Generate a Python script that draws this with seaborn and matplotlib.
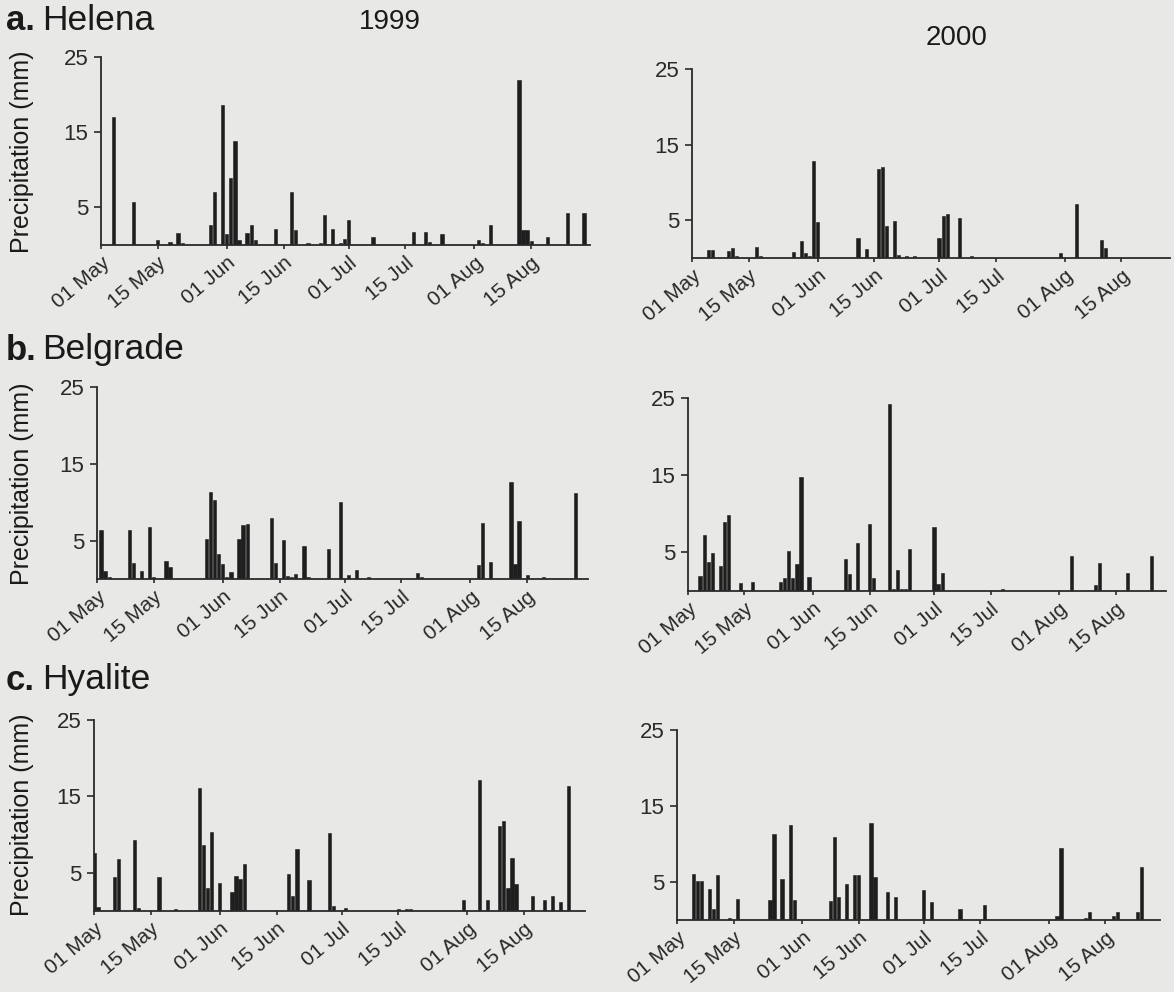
import matplotlib
matplotlib.use('Agg')
import matplotlib.pyplot as plt
import seaborn as sns

# days counted from 01 May (day 0), daily precipitation in mm
helena99_days = [3, 8, 14, 17, 19, 20, 27, 28, 30, 31, 32, 33, 34, 36, 37, 38, 43, 47, 48, 51,
                 54, 55, 57, 59, 60, 61, 67, 77, 80, 81, 84, 93, 94, 96, 103, 104, 105, 106, 110, 115, 119]
helena99_mm = [17.0, 5.7, 0.6, 0.4, 1.6, 0.2, 2.7, 7.0, 18.6, 1.4, 8.9, 13.8, 0.6, 1.6, 2.6, 0.6, 2.1, 7.1, 2.0, 0.2,
               0.3, 4.0, 2.1, 0.3, 0.8, 3.3, 1.1, 1.7, 1.7, 0.4, 1.5, 0.6, 0.3, 2.7, 22.0, 2.0, 2.0, 0.5, 1.1, 4.3, 4.2]

helena00_days = [4, 5, 9, 10, 11, 16, 17, 25, 27, 28, 29, 30, 31, 41, 43, 46, 47, 48, 50, 51,
                 53, 55, 61, 62, 63, 66, 69, 91, 95, 101, 102]
helena00_mm = [1.1, 1.1, 0.9, 1.3, 0.3, 1.5, 0.2, 0.8, 2.2, 0.7, 0.2, 12.8, 4.8, 2.6, 1.2, 11.8, 12.0, 4.2, 4.9, 0.4,
               0.2, 0.2, 2.6, 5.6, 5.8, 5.3, 0.3, 0.7, 7.2, 2.4, 1.3]

belgrade99_days = [1, 2, 3, 8, 9, 11, 13, 14, 17, 18, 27, 28, 29, 30, 31, 32, 33, 35, 36, 37,
                   43, 44, 46, 47, 48, 49, 51, 52, 57, 60, 62, 64, 67, 79, 80, 94, 95, 97, 102, 103,
                   104, 106, 110, 118]
belgrade99_mm = [6.4, 1.1, 0.2, 6.4, 2.1, 1.0, 6.8, 0.2, 2.3, 1.5, 5.2, 11.3, 10.3, 3.2, 1.9, 0.2, 0.9, 5.2, 7.0, 7.2,
                 8.0, 2.1, 5.1, 0.4, 0.3, 0.6, 4.3, 0.2, 3.9, 10.0, 0.5, 1.2, 0.3, 0.8, 0.3, 1.8, 7.3, 2.2, 12.6, 2.0,
                 7.6, 0.5, 0.3, 11.2]

belgrade00_days = [3, 4, 5, 6, 8, 9, 10, 13, 16, 23, 24, 25, 26, 27, 28, 30, 39, 40, 42, 45,
                   46, 50, 51, 52, 53, 54, 55, 61, 62, 63, 78, 95, 101, 102, 109, 115]
belgrade00_mm = [1.9, 7.2, 3.8, 4.9, 3.3, 8.9, 9.9, 1.0, 1.2, 1.2, 1.7, 5.2, 1.7, 3.5, 14.8, 1.8, 4.2, 2.2, 6.2, 8.7,
                 1.7, 24.2, 0.2, 2.7, 0.2, 0.2, 5.4, 8.3, 0.9, 2.3, 0.3, 4.5, 0.8, 3.6, 2.3, 4.5]

hyalite99_days = [0, 1, 5, 6, 10, 11, 16, 20, 26, 27, 28, 29, 31, 34, 35, 36, 37, 48, 49, 50,
                  53, 58, 59, 62, 75, 77, 78, 91, 95, 97, 100, 101, 102, 103, 104, 108, 111, 113, 115, 117]
hyalite99_mm = [7.6, 0.5, 4.5, 6.8, 9.3, 0.4, 4.4, 0.3, 16.1, 8.7, 3.0, 10.3, 3.6, 2.5, 4.6, 4.2, 6.1, 4.8, 2.0, 8.1,
                4.1, 10.2, 0.6, 0.4, 0.2, 0.2, 0.2, 1.5, 17.2, 1.5, 11.1, 11.8, 3.0, 7.0, 3.5, 2.0, 1.5, 2.0, 1.2, 16.4]

hyalite00_days = [4, 5, 6, 8, 9, 10, 13, 15, 23, 24, 26, 28, 29, 38, 39, 40, 42, 44, 45, 48,
                  49, 52, 54, 61, 63, 70, 76, 94, 95, 101, 102, 108, 109, 114, 115]
hyalite00_mm = [6.0, 5.1, 5.1, 4.1, 1.5, 5.9, 0.2, 2.7, 2.6, 11.3, 5.4, 12.5, 2.6, 2.5, 10.9, 3.0, 4.8, 5.9, 5.9, 12.8,
                5.7, 3.7, 3.0, 3.9, 2.4, 1.5, 2.0, 0.5, 9.5, 0.3, 1.0, 0.5, 1.0, 1.0, 7.0]

tick_days = [0, 14, 31, 45, 61, 75, 92, 106]
tick_labels = ['01 May', '15 May', '01 Jun', '15 Jun', '01 Jul', '15 Jul', '01 Aug', '15 Aug']

W, H = 1174, 992
bg = '#e8e8e6'
ink = '#1e1e1e'

sns.set_theme(style='ticks')
plt.rcParams['font.family'] = ['Liberation Sans', 'DejaVu Sans']

fig = plt.figure(figsize=(W / 100, H / 100), dpi=100, facecolor=bg)

# (left px, x px of right end, top px (25 mm), bottom px (0 mm), xmax day)
panels = [
    (101, 590, 57, 245, helena99_days, helena99_mm, 120.5),
    (692, 1170, 69, 258, helena00_days, helena00_mm, 118),
    (97, 588, 387, 579, belgrade99_days, belgrade99_mm, 121),
    (688, 1166, 398, 591, belgrade00_days, belgrade00_mm, 118.5),
    (94, 585, 720, 911, hyalite99_days, hyalite99_mm, 121),
    (677, 1160, 730, 920, hyalite00_days, hyalite00_mm, 119.5),
]

for left, right, top, bottom, days, mm, xmax in panels:
    ax = fig.add_axes([left / W, 1 - bottom / H, (right - left) / W, (bottom - top) / H])
    ax.set_facecolor(bg)
    sns.barplot(x=days, y=mm, native_scale=True, width=0.8, color=ink,
                edgecolor=ink, linewidth=0.4, errorbar=None, ax=ax)
    ax.set_xlim(0, xmax)
    ax.set_ylim(0, 25)
    ax.set_yticks([5, 15, 25])
    ax.set_xticks(tick_days)
    ax.set_xticklabels(tick_labels, rotation=40, ha='right', rotation_mode='anchor')
    ax.tick_params(axis='y', labelsize=16, length=5, width=1.2, colors='#2a2a2a', pad=4)
    ax.tick_params(axis='x', labelsize=15, length=3, width=1.2, colors='#2a2a2a', pad=3)
    for s in ['top', 'right']:
        ax.spines[s].set_visible(False)
    for s in ['left', 'bottom']:
        ax.spines[s].set_color('#2a2a2a')
        ax.spines[s].set_linewidth(1.3)
    ax.set_xlabel('')
    ax.set_ylabel('')

# panel letters, station names and years
for y, letter, name in [(20, 'a.', 'Helena'), (350, 'b.', 'Belgrade'), (680, 'c.', 'Hyalite')]:
    fig.text(6 / W, 1 - y / H, letter, fontsize=25, fontweight='bold', color='#1a1a1a', va='center')
    fig.text(42 / W, 1 - y / H, name, fontsize=25.5, color='#1a1a1a', va='center')

fig.text(390 / W, 1 - 22 / H, '1999', fontsize=20, color='#1a1a1a', ha='center', va='center')
fig.text(957 / W, 1 - 38 / H, '2000', fontsize=20, color='#1a1a1a', ha='center', va='center')

for yc in [152, 484, 815]:
    fig.text(22 / W, 1 - yc / H, 'Precipitation (mm)', fontsize=18, color='#1a1a1a',
             rotation=90, ha='center', va='center')

fig.savefig('out.png', dpi=100, facecolor=bg)
